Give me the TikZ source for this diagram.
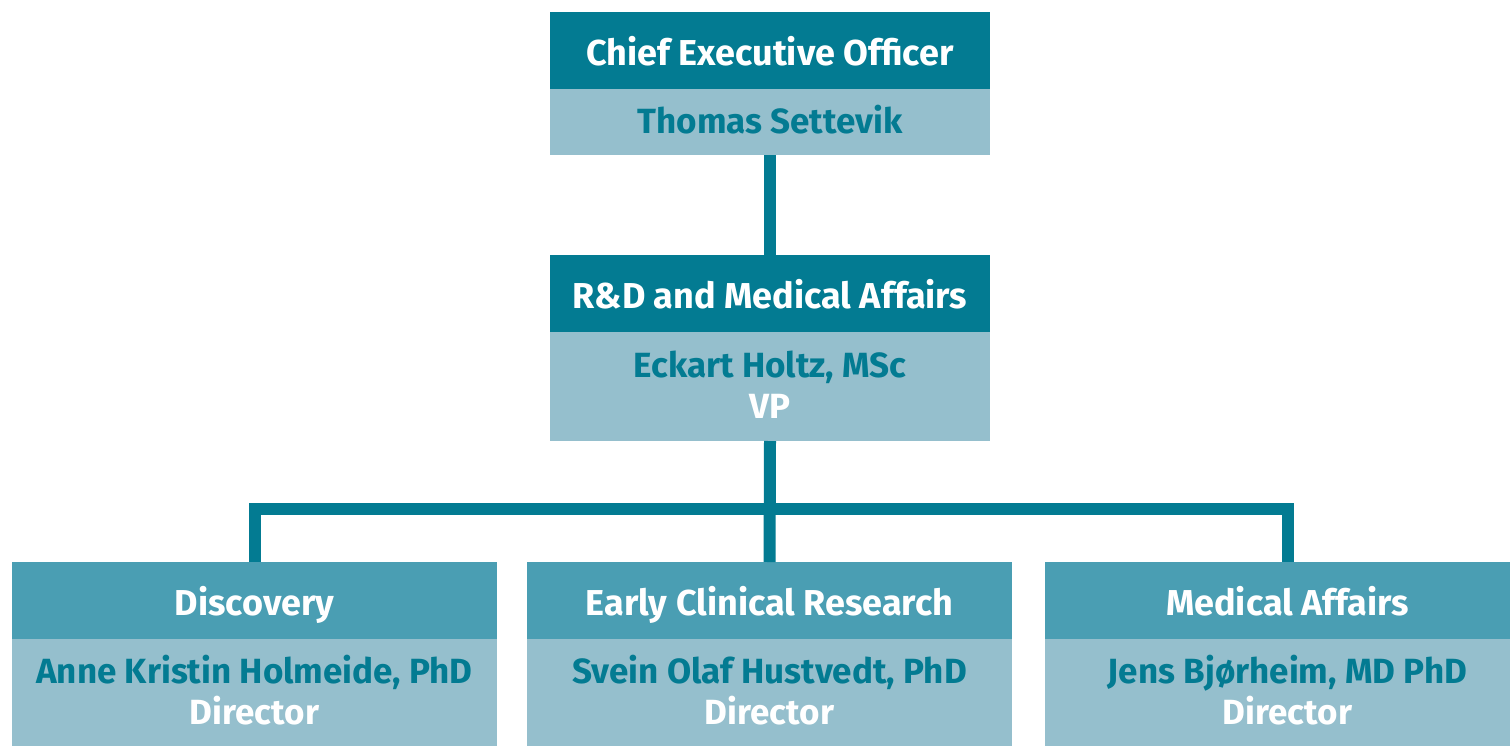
\documentclass[tikz,border=0pt]{standalone}
\usepackage{fontspec}
\setmainfont{Fira Sans}
\definecolor{tealdark}{HTML}{037B92}
\definecolor{teallight}{HTML}{4A9EB3}
\definecolor{tealpale}{HTML}{95BFCD}
\begin{document}
\begin{tikzpicture}[x=1pt,y=-1pt,
  every node/.style={inner sep=0pt, outer sep=0pt, anchor=north west},
  hdtext/.style={text=white, text height=29pt, text depth=0pt, font=\fontsize{36}{41}\selectfont\bfseries},
  topdark/.style={hdtext, fill=tealdark, minimum width=440pt, minimum height=77pt},
  subhead/.style={hdtext, fill=teallight, minimum width=485pt, minimum height=77pt},
  body/.style={fill=tealpale, text=tealdark, align=center, text height=26pt, text depth=4pt, font=\fontsize{35}{41}\selectfont\bfseries},
  bodytwo/.style={body, text height=67pt},
  conn/.style={draw=tealdark, line width=12pt, line join=miter}]
\useasboundingbox (0,0) rectangle (1510,745);
\clip (0,0) rectangle (1510,745);
\fill[white] (0,0) rectangle (1510,745);
% CEO
\node[topdark] (ceoh) at (550,12) {Chief Executive Officer};
\node[body, minimum width=440pt, minimum height=66pt] (ceob) at (550,89) {Thomas Settevik};
% R&D
\node[topdark] (rdh) at (550,255) {R\&D and Medical Affairs};
\node[bodytwo, minimum width=440pt, minimum height=109pt] (rdb) at (550,332) {Eckart Holtz, MSc\\\textcolor{white}{VP}};
% bottom row
\node[subhead] (disch) at (12,562) {Discovery};
\node[bodytwo, minimum width=485pt, minimum height=108pt] (discb) at (12,639) {Anne Kristin Holmeide, PhD\\\textcolor{white}{Director}};
\node[subhead] (ecrh) at (527,562) {Early Clinical Research};
\node[bodytwo, minimum width=485pt, minimum height=108pt] (ecrb) at (527,639) {Svein Olaf Hustvedt, PhD\\\textcolor{white}{Director}};
\node[subhead] (medh) at (1045,562) {Medical Affairs};
\node[bodytwo, minimum width=485pt, minimum height=108pt] (medb) at (1045,639) {Jens Bjørheim, MD PhD\\\textcolor{white}{Director}};
% connectors
\coordinate (bar) at (770,509);
\draw[conn] (ceob.south -| rdh.north) -- (rdh.north);
\draw[conn] (rdb.south) -- (ecrh.north);
\draw[conn] (disch.north) |- (bar) -| (medh.north);
\end{tikzpicture}
\end{document}
